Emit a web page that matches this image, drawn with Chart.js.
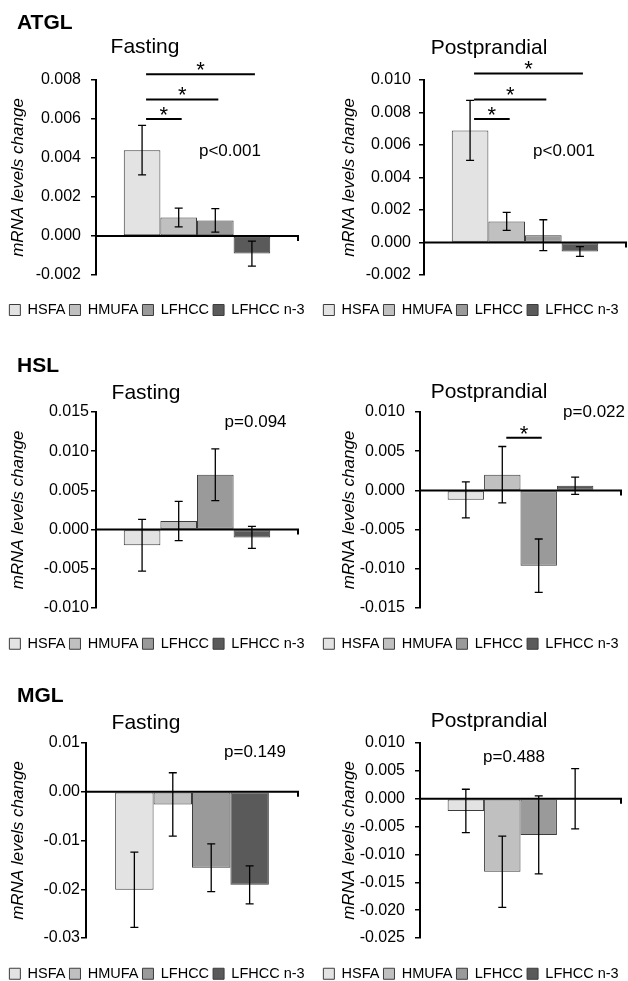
<!DOCTYPE html>
<html>
<head>
<meta charset="utf-8">
<script src="https://cdn.jsdelivr.net/npm/chart.js@4.4.0/dist/chart.umd.min.js"></script>
<style>
  html, body { margin: 0; padding: 0; background: #fff; overflow: hidden; }
  #page { position: relative; width: 628px; height: 981px; }
  canvas { position: absolute; }
</style>
</head>
<body>
<div id="page">
  <canvas id="c0" width="314" height="330" style="left:0;top:0"></canvas>
  <canvas id="c1" width="314" height="330" style="left:314px;top:0"></canvas>
  <canvas id="c2" width="314" height="330" style="left:0;top:331px"></canvas>
  <canvas id="c3" width="314" height="330" style="left:314px;top:331px"></canvas>
  <canvas id="c4" width="314" height="330" style="left:0;top:661px"></canvas>
  <canvas id="c5" width="314" height="330" style="left:314px;top:661px"></canvas>
</div>
<script>
const FONT = "'Liberation Sans', Arial, sans-serif";

// diet groups and their bar colours
const groups = ["HSFA", "HMUFA", "LFHCC", "LFHCC n-3"];
const groupColors = ["#e3e3e3", "#c0c0c0", "#9a9a9a", "#5a5a5a"];

// mean change and error (half length of the error bar) per group
const atglFastMean = [0.0044, 0.00095, 0.0008, -0.0009];
const atglFastErr  = [0.00127, 0.00048, 0.0006, 0.00064];
const atglPostMean = [0.0069, 0.0013, 0.00045, -0.00055];
const atglPostErr  = [0.00185, 0.00055, 0.00095, 0.0003];
const hslFastMean  = [-0.002, 0.0011, 0.007, -0.001];
const hslFastErr   = [0.0033, 0.0025, 0.0033, 0.0014];
const hslPostMean  = [-0.0012, 0.002, -0.0096, 0.0006];
const hslPostErr   = [0.0023, 0.0036, 0.0034, 0.0011];
const mglFastMean  = [-0.0201, -0.0026, -0.0156, -0.0191];
const mglFastErr   = [0.0077, 0.0065, 0.0049, 0.0039];
const mglPostMean  = [-0.0022, -0.0131, -0.0065, 0.0];
const mglPostErr   = [0.0039, 0.0064, 0.007, 0.0054];

// significance brackets: [from group, to group, level]
const atglFastSig = [[0, 1, 0.0060], [0, 2, 0.0070], [0, 3, 0.0083]];
const atglPostSig = [[0, 1, 0.0076], [0, 2, 0.0088], [0, 3, 0.0104]];
const hslPostSig  = [[1, 2, 0.0067]];

// y axis ranges: [min, max, step, decimals]
const atglFastAxis = [-0.002, 0.008, 0.002, 3];
const atglPostAxis = [-0.002, 0.010, 0.002, 3];
const hslFastAxis  = [-0.010, 0.015, 0.005, 3];
const hslPostAxis  = [-0.015, 0.010, 0.005, 3];
const mglFastAxis  = [-0.03, 0.01, 0.01, 2];
const mglPostAxis  = [-0.025, 0.010, 0.005, 3];

// p value labels: [text, fraction across the plot, value level]
const atglFastP = ["p<0.001", 0.663, 0.0044];
const atglPostP = ["p<0.001", 0.693, 0.0057];
const hslFastP  = ["p=0.094", 0.79, 0.0139];
const hslPostP  = ["p=0.022", 0.866, 0.0101];
const mglFastP  = ["p=0.149", 0.797, 0.0084];
const mglPostP  = ["p=0.488", 0.468, 0.0077];

const panels = [
  { id: "c0", label: "ATGL", title: "Fasting", mean: atglFastMean, err: atglFastErr, sig: atglFastSig, axis: atglFastAxis, p: atglFastP,
    box: { padT: 80, padB: 2.75, yW: 96, rW: 16, xH: 23.75, tickPad: 10, titlePad: 8.3, tx: 145, ty: 45, ly: 21 } },
  { id: "c1", label: "", title: "Postprandial", mean: atglPostMean, err: atglPostErr, sig: atglPostSig, axis: atglPostAxis, p: atglPostP,
    box: { padT: 80, padB: 2.75, yW: 110, rW: 2, xH: 23.75, tickPad: 8, titlePad: 24.8, tx: 175, ty: 46 } },
  { id: "c2", label: "HSL", title: "Fasting", mean: hslFastMean, err: hslFastErr, sig: [], axis: hslFastAxis, p: hslFastP,
    box: { padT: 81, padB: 0, yW: 96, rW: 16, xH: 24.5, tickPad: 2, titlePad: 8.3, tx: 146, ty: 60, ly: 33 } },
  { id: "c3", label: "", title: "Postprandial", mean: hslPostMean, err: hslPostErr, sig: hslPostSig, axis: hslPostAxis, p: hslPostP,
    box: { padT: 81, padB: 0, yW: 106, rW: 7, xH: 24.5, tickPad: 10, titlePad: 24.8, tx: 175, ty: 59 } },
  { id: "c4", label: "MGL", title: "Fasting", mean: mglFastMean, err: mglFastErr, sig: [], axis: mglFastAxis, p: mglFastP,
    box: { padT: 82, padB: 0, yW: 86, rW: 16, xH: 24.5, tickPad: 1, titlePad: 8.3, tx: 146, ty: 60, ly: 33 } },
  { id: "c5", label: "", title: "Postprandial", mean: mglPostMean, err: mglPostErr, sig: [], axis: mglPostAxis, p: mglPostP,
    box: { padT: 82, padB: 0, yW: 106, rW: 7, xH: 24.5, tickPad: 10, titlePad: 24.8, tx: 175, ty: 58.5 } },
];

// error bars, zero axis, brackets and the texts around each panel
const extrasPlugin = {
  id: "extras",
  afterDatasetsDraw(chart) {
    const p = chart.options.plugins.extras.panel;
    const { ctx, chartArea } = chart;
    const y = chart.scales.y;
    const y0 = y.getPixelForValue(0);
    ctx.save();

    ctx.strokeStyle = "#000";
    ctx.lineWidth = 2;
    ctx.beginPath();
    ctx.moveTo(chartArea.left, y0);
    ctx.lineTo(chartArea.right, y0);
    ctx.moveTo(chartArea.right, y0 - 1);
    ctx.lineTo(chartArea.right, y0 + 5);
    ctx.stroke();

    ctx.lineWidth = 1.3;
    chart.data.datasets.forEach((ds, i) => {
      const bar = chart.getDatasetMeta(i).data[0];
      const v = ds.data[0];
      const e = p.err[i];
      const yt = y.getPixelForValue(v + e);
      const yb = y.getPixelForValue(v - e);
      ctx.beginPath();
      ctx.moveTo(bar.x, yt); ctx.lineTo(bar.x, yb);
      ctx.moveTo(bar.x - 4, yt); ctx.lineTo(bar.x + 4, yt);
      ctx.moveTo(bar.x - 4, yb); ctx.lineTo(bar.x + 4, yb);
      ctx.stroke();
    });

    ctx.lineWidth = 2;
    ctx.fillStyle = "#000";
    ctx.textAlign = "center";
    ctx.textBaseline = "alphabetic";
    ctx.font = "22px " + FONT;
    p.sig.forEach(([a, b, level]) => {
      const xa = chart.getDatasetMeta(a).data[0].x + 4;
      const xb = chart.getDatasetMeta(b).data[0].x + 3;
      const ys = y.getPixelForValue(level);
      ctx.beginPath();
      ctx.moveTo(xa, ys); ctx.lineTo(xb, ys);
      ctx.stroke();
      ctx.fillText("*", (xa + xb) / 2, ys - 10 + 0.575 * 22);
    });

    const [ptext, pfrac, plevel] = p.p;
    ctx.font = "17px " + FONT;
    ctx.fillText(ptext, chartArea.left + pfrac * (chartArea.right - chartArea.left), y.getPixelForValue(plevel) + 6);

    ctx.font = "21px " + FONT;
    ctx.fillText(p.title, p.box.tx, p.box.ty + 7.5);
    if (p.label) {
      ctx.textAlign = "left";
      ctx.font = "bold 21px " + FONT;
      ctx.fillText(p.label, 17, p.box.ly + 7.5);
    }
    ctx.restore();
  }
};

panels.forEach(p => {
  const [min, max, step, dec] = p.axis;
  const b = p.box;
  new Chart(document.getElementById(p.id), {
    type: "bar",
    plugins: [extrasPlugin],
    data: {
      labels: [""],
      datasets: groups.map((g, i) => ({
        label: g,
        data: [p.mean[i]],
        backgroundColor: groupColors[i],
        borderColor: "#3c3c3c",
        borderWidth: 1,
        borderSkipped: false,
        categoryPercentage: 0.725,
        barPercentage: 1.0,
      })),
    },
    options: {
      responsive: false,
      animation: false,
      layout: { padding: { left: 0, right: 0, top: b.padT, bottom: b.padB } },
      scales: {
        x: {
          display: true,
          grid: { display: false },
          border: { display: false },
          ticks: { display: false },
          afterFit: s => { s.height = b.xH; },
        },
        y: {
          min: min,
          max: max,
          afterFit: s => { s.width = b.yW; },
          ticks: {
            stepSize: step,
            color: "#000",
            padding: b.tickPad,
            font: { family: FONT, size: 16 },
            callback: v => (Math.abs(v) < 1e-12 ? 0 : v).toFixed(dec),
          },
          grid: { drawOnChartArea: false, drawTicks: true, tickLength: 5, color: "#000", lineWidth: 1.5 },
          border: { display: true, color: "#000", width: 2 },
          title: {
            display: true,
            text: "mRNA levels change",
            color: "#000",
            padding: { top: b.titlePad, bottom: 0 },
            font: { family: FONT, size: 17, style: "italic" },
          },
        },
        // empty right-hand axis, only keeps the gap right of the plot
        yRight: {
          position: "right",
          display: true,
          grid: { display: false },
          border: { display: false },
          ticks: { display: false },
          afterFit: s => { s.width = b.rW; },
        },
      },
      plugins: {
        tooltip: { enabled: false },
        extras: { panel: p },
        legend: {
          position: "bottom",
          labels: {
            color: "#000",
            boxWidth: 11,
            boxHeight: 11,
            padding: 4,
            font: { family: FONT, size: 14.5 },
          },
        },
      },
    },
  });
});
</script>
</body>
</html>
